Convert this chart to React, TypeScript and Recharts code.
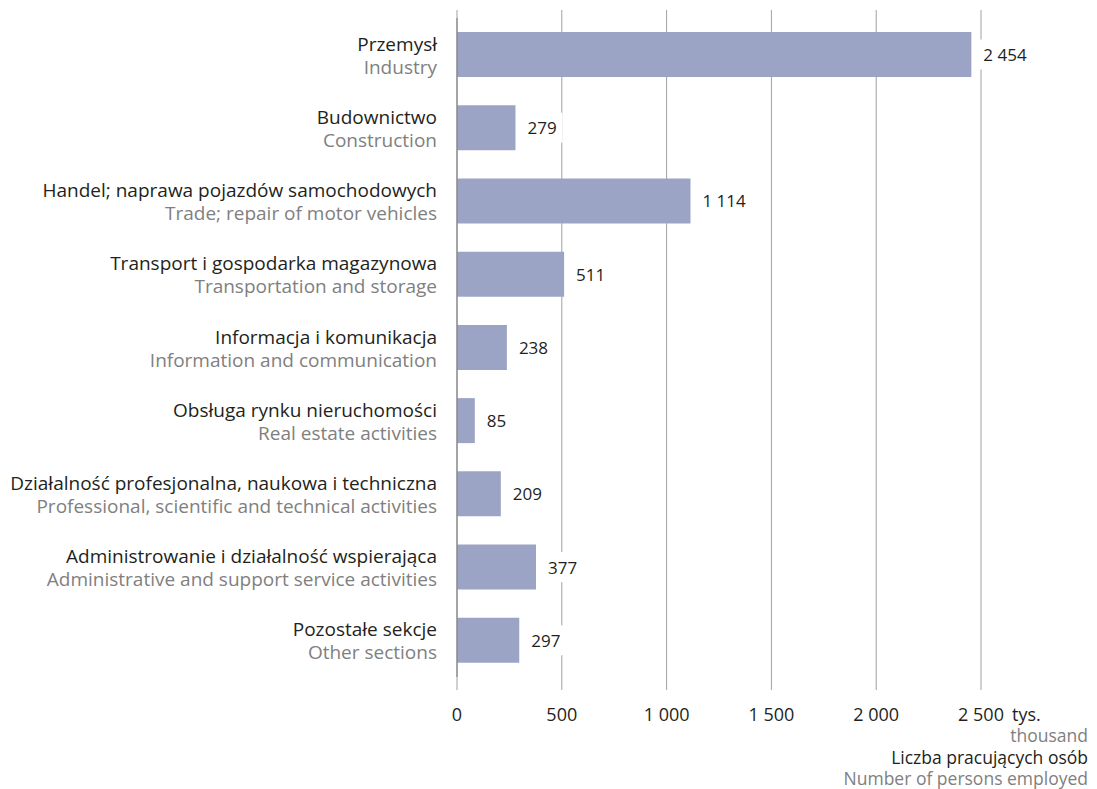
import React from "react";
import {
  BarChart,
  Bar,
  XAxis,
  YAxis,
  CartesianGrid,
  LabelList,
} from "recharts";

const sectorsPl = [
  "Przemysł",
  "Budownictwo",
  "Handel; naprawa pojazdów samochodowych",
  "Transport i gospodarka magazynowa",
  "Informacja i komunikacja",
  "Obsługa rynku nieruchomości",
  "Działalność profesjonalna, naukowa i techniczna",
  "Administrowanie i działalność wspierająca",
  "Pozostałe sekcje",
];

const sectorsEn = [
  "Industry",
  "Construction",
  "Trade; repair of motor vehicles",
  "Transportation and storage",
  "Information and communication",
  "Real estate activities",
  "Professional, scientific and technical activities",
  "Administrative and support service activities",
  "Other sections",
];

const employed = [2454, 279, 1114, 511, 238, 85, 209, 377, 297];

const xTicks = [0, 500, 1000, 1500, 2000, 2500];

const data = sectorsPl.map((pl, i) => ({
  pl,
  en: sectorsEn[i],
  value: employed[i],
}));

const FONT = "'Open Sans', 'Noto Sans', sans-serif";
const DARK = "#231f20";
const GREY = "#808080";
const BAR = "#9ca4c6";

const fmt = (n: number) =>
  String(n).replace(/\B(?=(\d{3})+(?!\d))/g, " ");

function SectorTick({ x, y, payload, index }: any) {
  const en = sectorsEn[index] ?? "";
  return (
    <g>
      <text
        x={x}
        y={y - 11}
        textAnchor="end"
        dominantBaseline="central"
        fontFamily={FONT}
        fontSize={19}
        fill={DARK}
      >
        {payload.value}
      </text>
      <text
        x={x}
        y={y + 12}
        textAnchor="end"
        dominantBaseline="central"
        fontFamily={FONT}
        fontSize={19}
        fill={GREY}
      >
        {en}
      </text>
    </g>
  );
}

function ValueTick({ x, y, payload }: any) {
  const last = payload.value === xTicks[xTicks.length - 1];
  return (
    <g>
      <text
        x={x}
        y={y + 29}
        textAnchor="middle"
        dominantBaseline="central"
        fontFamily={FONT}
        fontSize={18}
        fill={DARK}
      >
        {fmt(payload.value)}
      </text>
      {last && (
        <text
          x={x + 31}
          y={y + 29}
          textAnchor="start"
          dominantBaseline="central"
          fontFamily={FONT}
          fontSize={18}
          fill={DARK}
        >
          tys.
        </text>
      )}
    </g>
  );
}

function ValueLabel({ x, y, width, height, value }: any) {
  const txt = fmt(Number(value));
  const tx = x + width + 12;
  const cy = y + height / 2;
  const w = txt.length * 10 + 10;
  return (
    <g>
      <rect x={tx - 5} y={cy - 15} width={w} height={30} fill="#ffffff" />
      <text
        x={tx}
        y={cy}
        dominantBaseline="central"
        fontFamily={FONT}
        fontSize={17}
        fill={DARK}
      >
        {txt}
      </text>
    </g>
  );
}

export default function App() {
  return (
    <div
      style={{
        position: "absolute",
        left: 0,
        top: 0,
        width: 1097,
        height: 789,
        background: "#ffffff",
        fontFamily: FONT,
      }}
    >
      <BarChart
        width={1097}
        height={789}
        data={data}
        layout="vertical"
        margin={{ top: 18, right: 116, bottom: 82, left: 0 }}
      >
        <CartesianGrid
          horizontal={false}
          stroke="#a0a0a0"
          strokeWidth={1}
          y={10}
          height={680}
        />
        <XAxis
          type="number"
          domain={[0, 2500]}
          ticks={xTicks}
          interval={0}
          axisLine={false}
          tickLine={false}
          tick={<ValueTick />}
        />
        <YAxis
          type="category"
          dataKey="pl"
          width={457}
          axisLine={{ stroke: "#7a7a7a" }}
          tickLine={false}
          tickMargin={14}
          interval={0}
          tick={<SectorTick />}
        />
        <Bar dataKey="value" fill={BAR} barSize={45} isAnimationActive={false}>
          <LabelList dataKey="value" content={<ValueLabel />} />
        </Bar>
      </BarChart>
      <div
        style={{
          position: "absolute",
          right: 9,
          top: 725,
          textAlign: "right",
          fontSize: 17.5,
          lineHeight: "21.5px",
          whiteSpace: "nowrap",
        }}
      >
        <div style={{ color: GREY }}>thousand</div>
        <div style={{ color: DARK }}>Liczba pracujących osób</div>
        <div style={{ color: GREY }}>Number of persons employed</div>
      </div>
    </div>
  );
}
